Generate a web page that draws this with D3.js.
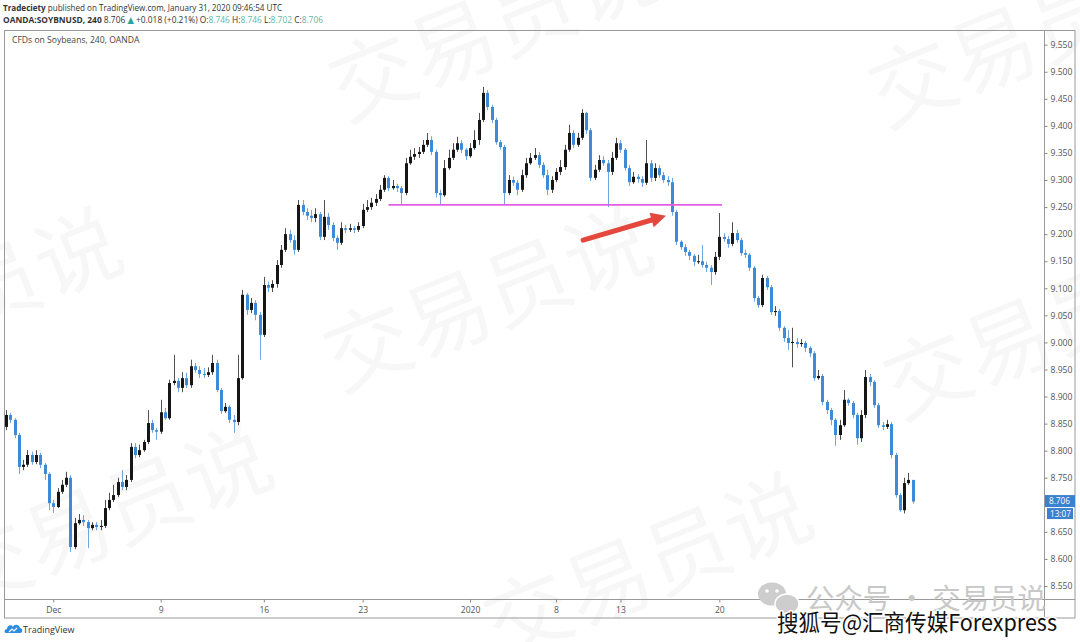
<!DOCTYPE html>
<html>
<head>
<meta charset="utf-8">
<script src="https://cdn.jsdelivr.net/npm/d3@7"></script>
<style>
  body { margin: 0; background: #fff; }
  svg { display: block; font-family: "Open Sans", "DejaVu Sans", sans-serif; }
</style>
</head>
<body>
<svg id="chart" width="1080" height="642"></svg>
<script>
// OANDA:SOYBNUSD 240 candles. Open of a bar = close of the bar before.
const firstOpen = 8.844;
const closes = [
  8.866, 8.857, 8.829, 8.770, 8.774, 8.792, 8.779, 8.792, 8.774, 8.757,
  8.703, 8.696, 8.724, 8.737, 8.750, 8.622, 8.666, 8.672, 8.668, 8.657,
  8.663, 8.659, 8.661, 8.694, 8.709, 8.718, 8.742, 8.733, 8.746, 8.807,
  8.792, 8.801, 8.816, 8.851, 8.838, 8.835, 8.871, 8.860, 8.925, 8.929,
  8.916, 8.934, 8.921, 8.956, 8.949, 8.942, 8.940, 8.945, 8.962, 8.912,
  8.873, 8.881, 8.857, 8.853, 8.934, 9.088, 9.060, 9.073, 9.051, 9.014,
  9.106, 9.101, 9.108, 9.143, 9.171, 9.200, 9.189, 9.171, 9.254, 9.241,
  9.234, 9.230, 9.237, 9.195, 9.232, 9.217, 9.193, 9.184, 9.211, 9.208,
  9.211, 9.208, 9.215, 9.245, 9.250, 9.258, 9.265, 9.282, 9.304, 9.285,
  9.289, 9.285, 9.276, 9.331, 9.343, 9.348, 9.352, 9.365, 9.374, 9.352,
  9.276, 9.272, 9.322, 9.341, 9.356, 9.368, 9.356, 9.344, 9.359, 9.374,
  9.411, 9.461, 9.435, 9.411, 9.370, 9.361, 9.276, 9.300, 9.295, 9.282,
  9.309, 9.331, 9.341, 9.346, 9.328, 9.309, 9.282, 9.300, 9.315, 9.324,
  9.356, 9.387, 9.365, 9.378, 9.424, 9.392, 9.304, 9.319, 9.337, 9.331,
  9.315, 9.341, 9.368, 9.356, 9.322, 9.296, 9.306, 9.302, 9.295, 9.331,
  9.304, 9.322, 9.309, 9.300, 9.296, 9.241, 9.186, 9.176, 9.167, 9.160,
  9.149, 9.150, 9.143, 9.138, 9.130, 9.158, 9.195, 9.191, 9.182, 9.202,
  9.189, 9.165, 9.162, 9.138, 9.082, 9.069, 9.119, 9.102, 9.056, 9.058,
  9.027, 9.008, 8.999, 9.001, 8.997, 8.999, 8.990, 8.980, 8.934, 8.938,
  8.890, 8.875, 8.857, 8.829, 8.847, 8.894, 8.888, 8.866, 8.823, 8.866,
  8.936, 8.927, 8.884, 8.847, 8.844, 8.849, 8.792, 8.718, 8.690, 8.740,
  8.746, 8.706
];
const highs = [
  8.875, 8.870, 8.860, 8.833, 8.783, 8.801, 8.798, 8.801, 8.796, 8.777,
  8.760, 8.709, 8.731, 8.746, 8.761, 8.755, 8.676, 8.683, 8.681, 8.672,
  8.668, 8.668, 8.672, 8.709, 8.722, 8.737, 8.750, 8.764, 8.755, 8.814,
  8.814, 8.811, 8.820, 8.875, 8.857, 8.842, 8.894, 8.879, 8.931, 8.977,
  8.934, 8.945, 8.944, 8.968, 8.962, 8.956, 8.953, 8.954, 8.977, 8.968,
  8.916, 8.888, 8.884, 8.866, 8.977, 9.097, 9.091, 9.082, 9.078, 9.056,
  9.121, 9.112, 9.115, 9.152, 9.180, 9.211, 9.208, 9.198, 9.263, 9.263,
  9.248, 9.245, 9.248, 9.241, 9.263, 9.239, 9.222, 9.198, 9.222, 9.217,
  9.219, 9.215, 9.222, 9.256, 9.263, 9.267, 9.274, 9.291, 9.309, 9.307,
  9.300, 9.293, 9.289, 9.341, 9.356, 9.359, 9.361, 9.374, 9.387, 9.381,
  9.356, 9.282, 9.337, 9.356, 9.368, 9.380, 9.374, 9.359, 9.368, 9.392,
  9.424, 9.472, 9.466, 9.439, 9.415, 9.374, 9.365, 9.309, 9.306, 9.300,
  9.319, 9.341, 9.350, 9.359, 9.352, 9.333, 9.319, 9.307, 9.322, 9.337,
  9.365, 9.402, 9.392, 9.387, 9.431, 9.426, 9.396, 9.328, 9.346, 9.344,
  9.337, 9.352, 9.378, 9.374, 9.359, 9.328, 9.315, 9.311, 9.307, 9.374,
  9.337, 9.331, 9.328, 9.315, 9.307, 9.304, 9.245, 9.189, 9.182, 9.171,
  9.163, 9.162, 9.180, 9.149, 9.143, 9.167, 9.239, 9.202, 9.197, 9.222,
  9.208, 9.193, 9.171, 9.165, 9.141, 9.086, 9.125, 9.123, 9.106, 9.067,
  9.062, 9.030, 9.023, 9.027, 9.008, 9.006, 9.003, 8.993, 8.984, 8.949,
  8.942, 8.894, 8.879, 8.860, 8.857, 8.912, 8.897, 8.892, 8.870, 8.875,
  8.949, 8.942, 8.930, 8.888, 8.853, 8.857, 8.853, 8.796, 8.722, 8.750,
  8.759, 8.746
];
const lows = [
  8.838, 8.851, 8.823, 8.757, 8.764, 8.770, 8.774, 8.775, 8.768, 8.746,
  8.690, 8.685, 8.694, 8.720, 8.733, 8.613, 8.618, 8.663, 8.661, 8.620,
  8.653, 8.653, 8.653, 8.657, 8.690, 8.705, 8.714, 8.727, 8.727, 8.742,
  8.786, 8.788, 8.798, 8.812, 8.833, 8.820, 8.831, 8.857, 8.857, 8.921,
  8.908, 8.908, 8.916, 8.916, 8.944, 8.934, 8.934, 8.936, 8.940, 8.908,
  8.868, 8.870, 8.851, 8.833, 8.847, 8.931, 9.051, 9.054, 9.041, 8.968,
  9.010, 9.093, 9.093, 9.101, 9.138, 9.167, 9.184, 9.162, 9.167, 9.235,
  9.226, 9.222, 9.222, 9.189, 9.189, 9.208, 9.187, 9.171, 9.180, 9.202,
  9.204, 9.202, 9.204, 9.211, 9.241, 9.245, 9.252, 9.261, 9.278, 9.280,
  9.282, 9.278, 9.254, 9.272, 9.328, 9.337, 9.341, 9.348, 9.361, 9.346,
  9.268, 9.254, 9.269, 9.319, 9.337, 9.352, 9.350, 9.337, 9.341, 9.356,
  9.365, 9.407, 9.429, 9.405, 9.365, 9.356, 9.254, 9.272, 9.289, 9.272,
  9.278, 9.304, 9.328, 9.337, 9.322, 9.304, 9.272, 9.276, 9.296, 9.309,
  9.319, 9.352, 9.359, 9.361, 9.374, 9.385, 9.298, 9.300, 9.315, 9.326,
  9.250, 9.309, 9.337, 9.350, 9.317, 9.289, 9.293, 9.295, 9.287, 9.291,
  9.296, 9.298, 9.304, 9.295, 9.289, 9.234, 9.180, 9.171, 9.160, 9.152,
  9.141, 9.145, 9.138, 9.130, 9.106, 9.125, 9.152, 9.186, 9.175, 9.178,
  9.184, 9.160, 9.156, 9.132, 9.075, 9.064, 9.065, 9.097, 9.051, 9.049,
  9.021, 9.001, 8.986, 8.954, 8.990, 8.992, 8.982, 8.973, 8.929, 8.931,
  8.884, 8.868, 8.847, 8.809, 8.820, 8.844, 8.883, 8.860, 8.811, 8.816,
  8.860, 8.919, 8.879, 8.842, 8.838, 8.840, 8.786, 8.713, 8.687, 8.684,
  8.737, 8.702
];

// 8.700 sits under the last-price tag, so it is not labelled
const priceTicks = [8.55, 8.60, 8.65, 8.75, 8.80, 8.85, 8.90, 8.95, 9.00,
  9.05, 9.10, 9.15, 9.20, 9.25, 9.30, 9.35, 9.40, 9.45, 9.50, 9.55];
const timeTickBars = [11, 36, 60, 83, 108, 128, 143, 166];
const timeTickLabels = ["Dec", "9", "16", "23", "2020", "8", "13", "20"];

// drawn annotations: support line and the arrow pointing at the break
const supportLevel = 9.254;
const supportBars = [89, 166.6];
const arrowTail = [134.3, 9.189];
const arrowHead = [153.6, 9.234];

const lastPrice = 8.706;
const countdown = "13:07";

const upColour = "#161616";
const downColour = "#3d8bd8";

const candles = closes.map((c, i) => ({
  i: i,
  o: i === 0 ? firstOpen : closes[i - 1],
  h: highs[i],
  l: lows[i],
  c: c
}));

const svg = d3.select("#chart");

const x = d3.scaleLinear().domain([0, closes.length - 1]).range([6, 912.7]);
const y = d3.scaleLinear().domain([8.55, 9.55]).range([586, 44.7]);

// faint background watermark
const wm = svg.append("g")
  .attr("font-family", "'Noto Sans CJK SC'")
  .attr("font-size", 86)
  .attr("fill", "#000")
  .attr("fill-opacity", 0.032);
[[345, 122], [340, 392], [-190, 395], [885, 128], [900, 420], [-40, 610], [500, 660]].forEach(p => {
  wm.append("text")
    .attr("transform", `translate(${p[0]},${p[1]}) rotate(-22)`)
    .text("交易员说");
});

// header
const head = svg.append("g").attr("font-size", 8.8).attr("fill", "#333");
const l1 = head.append("text").attr("x", 3).attr("y", 10.5)
  .attr("textLength", 279).attr("lengthAdjust", "spacingAndGlyphs");
l1.append("tspan").attr("font-weight", "bold").text("Tradeciety");
l1.append("tspan").text(" published on TradingView.com, January 31, 2020 09:46:54 UTC");

const teal = "#5cb8a8";
const l2 = head.append("text").attr("x", 3).attr("y", 22.5)
  .attr("textLength", 320).attr("lengthAdjust", "spacingAndGlyphs");
l2.append("tspan").attr("font-weight", "bold").text("OANDA:SOYBNUSD, 240");
l2.append("tspan").text(" 8.706 ");
l2.append("tspan").attr("fill", "#26a69a").text("▲");
l2.append("tspan").text(" +0.018 (+0.21%) O:");
l2.append("tspan").attr("fill", teal).text("8.746");
l2.append("tspan").text(" H:");
l2.append("tspan").attr("fill", teal).text("8.746");
l2.append("tspan").text(" L:");
l2.append("tspan").attr("fill", teal).text("8.702");
l2.append("tspan").text(" C:");
l2.append("tspan").attr("fill", teal).text("8.706");

// frame
const frame = svg.append("g").attr("stroke", "#9a9a9a").attr("fill", "none").attr("stroke-width", 1);
frame.append("rect").attr("x", 4.5).attr("y", 30.5).attr("width", 1070.5).attr("height", 587.5);
frame.append("line").attr("x1", 1044.5).attr("x2", 1044.5).attr("y1", 30.5).attr("y2", 618);
frame.append("line").attr("x1", 4.5).attr("x2", 1075).attr("y1", 599.5).attr("y2", 599.5);

svg.append("text")
  .attr("x", 12).attr("y", 43)
  .attr("font-size", 8.6).attr("fill", "#444")
  .text("CFDs on Soybeans, 240, OANDA");

// candles
svg.append("clipPath").attr("id", "plot-clip")
  .append("rect").attr("x", 5).attr("y", 31).attr("width", 1039).attr("height", 568);

const plot = svg.append("g").attr("clip-path", "url(#plot-clip)");
const bars = plot.selectAll(".candle")
  .data(candles)
  .join("g")
  .attr("class", "candle")
  .attr("fill", d => d.c >= d.o ? upColour : downColour)
  .attr("stroke", d => d.c >= d.o ? upColour : downColour);

bars.append("line")
  .attr("x1", d => Math.round(x(d.i)) + 0.5)
  .attr("x2", d => Math.round(x(d.i)) + 0.5)
  .attr("y1", d => y(d.h))
  .attr("y2", d => y(d.l))
  .attr("stroke-width", 1)
  .attr("stroke-opacity", 0.75);

bars.append("rect")
  .attr("x", d => Math.round(x(d.i)) - 1)
  .attr("width", 3)
  .attr("y", d => y(Math.max(d.o, d.c)))
  .attr("height", d => Math.max(1, Math.abs(y(d.o) - y(d.c))))
  .attr("stroke", "none");

// support line
plot.append("line")
  .attr("x1", x(supportBars[0])).attr("x2", x(supportBars[1]))
  .attr("y1", y(supportLevel)).attr("y2", y(supportLevel))
  .attr("stroke", "#e35ce3")
  .attr("stroke-width", 1.6);

// arrow
const ax0 = x(arrowTail[0]), ay0 = y(arrowTail[1]);
const ax1 = x(arrowHead[0]), ay1 = y(arrowHead[1]);
const ang = Math.atan2(ay1 - ay0, ax1 - ax0);
const headLen = 15, headHalf = 7.5;
const bx = ax1 - headLen * Math.cos(ang), by = ay1 - headLen * Math.sin(ang);
plot.append("line")
  .attr("x1", ax0).attr("y1", ay0).attr("x2", bx).attr("y2", by)
  .attr("stroke", "#e4473c").attr("stroke-width", 5).attr("stroke-linecap", "round");
plot.append("path")
  .attr("fill", "#e4473c")
  .attr("d", `M${ax1},${ay1}L${bx + headHalf * Math.sin(ang)},${by - headHalf * Math.cos(ang)}L${bx - headHalf * Math.sin(ang)},${by + headHalf * Math.cos(ang)}Z`);

// price axis
const yAxis = svg.append("g")
  .attr("transform", "translate(1044.5,0)")
  .call(d3.axisRight(y).tickValues(priceTicks).tickFormat(d3.format(".3f")).tickSize(3).tickPadding(3));
yAxis.select(".domain").remove();
yAxis.selectAll(".tick line").attr("stroke", "#888");
yAxis.selectAll(".tick text").attr("fill", "#555").attr("font-size", 8.6).attr("font-family", "'Open Sans', sans-serif");

// time axis
const xAxis = svg.append("g")
  .attr("transform", "translate(0,599.5)")
  .call(d3.axisBottom(x).tickValues(timeTickBars).tickFormat((d, i) => timeTickLabels[i]).tickSize(3).tickPadding(4));
xAxis.select(".domain").remove();
xAxis.selectAll(".tick line").attr("stroke", "#888");
xAxis.selectAll(".tick text").attr("fill", "#555").attr("font-size", 8.6).attr("font-family", "'Open Sans', sans-serif");

// last price tag
const py = y(lastPrice);
const tag = svg.append("g").attr("font-size", 8.2).attr("fill", "#fff");
tag.append("rect").attr("x", 1045).attr("y", py - 6.5).attr("width", 30).attr("height", 12).attr("fill", "#3a82d0");
tag.append("text").attr("x", 1049).attr("y", py + 2.8).text(d3.format(".3f")(lastPrice));
tag.append("rect").attr("x", 1047).attr("y", py + 6.5).attr("width", 26).attr("height", 11).attr("fill", "#3a82d0");
tag.append("text").attr("x", 1050).attr("y", py + 15).text(countdown);

// TradingView footer logo
const logo = svg.append("g").attr("transform", "translate(5,623)");
logo.append("path")
  .attr("d", "M1,10 C-1,10 -1,6 2,6 C2,2 7,1 8,4 C9,1 14,1 15,5 C18,5 18,10 15,10 Z")
  .attr("fill", "#2e8be0");
logo.append("path").attr("d", "M4,9 L7,6 L9,8 L12,5").attr("stroke", "#fff").attr("stroke-width", 1.2).attr("fill", "none");
svg.append("text").attr("x", 23).attr("y", 633).attr("font-size", 9).attr("fill", "#333").text("TradingView");

// WeChat / Sohu overlays
const wc = svg.append("g").attr("fill", "#cdcdcd");
wc.append("ellipse").attr("cx", 772).attr("cy", 594).attr("rx", 14).attr("ry", 11.5);
wc.append("ellipse").attr("cx", 787).attr("cy", 604).attr("rx", 12).attr("ry", 10).attr("stroke", "#fff").attr("stroke-width", 1.5);
wc.append("circle").attr("cx", 767).attr("cy", 591).attr("r", 1.8).attr("fill", "#fff");
wc.append("circle").attr("cx", 777).attr("cy", 591).attr("r", 1.8).attr("fill", "#fff");
svg.append("text")
  .attr("x", 806).attr("y", 609)
  .attr("font-family", "'Noto Sans CJK SC'")
  .attr("font-size", 28)
  .attr("fill", "#c8c8c8")
  .attr("textLength", 240).attr("lengthAdjust", "spacingAndGlyphs")
  .text("公众号 · 交易员说");

svg.append("text")
  .attr("x", 777).attr("y", 631)
  .attr("font-family", "'Noto Sans CJK SC'")
  .attr("font-size", 23)
  .attr("fill", "#111")
  .attr("stroke", "#fff")
  .attr("stroke-width", 3)
  .attr("paint-order", "stroke")
  .attr("stroke-linejoin", "round")
  .attr("textLength", 280).attr("lengthAdjust", "spacingAndGlyphs")
  .text("搜狐号@汇商传媒Forexpress");
</script>
</body>
</html>
